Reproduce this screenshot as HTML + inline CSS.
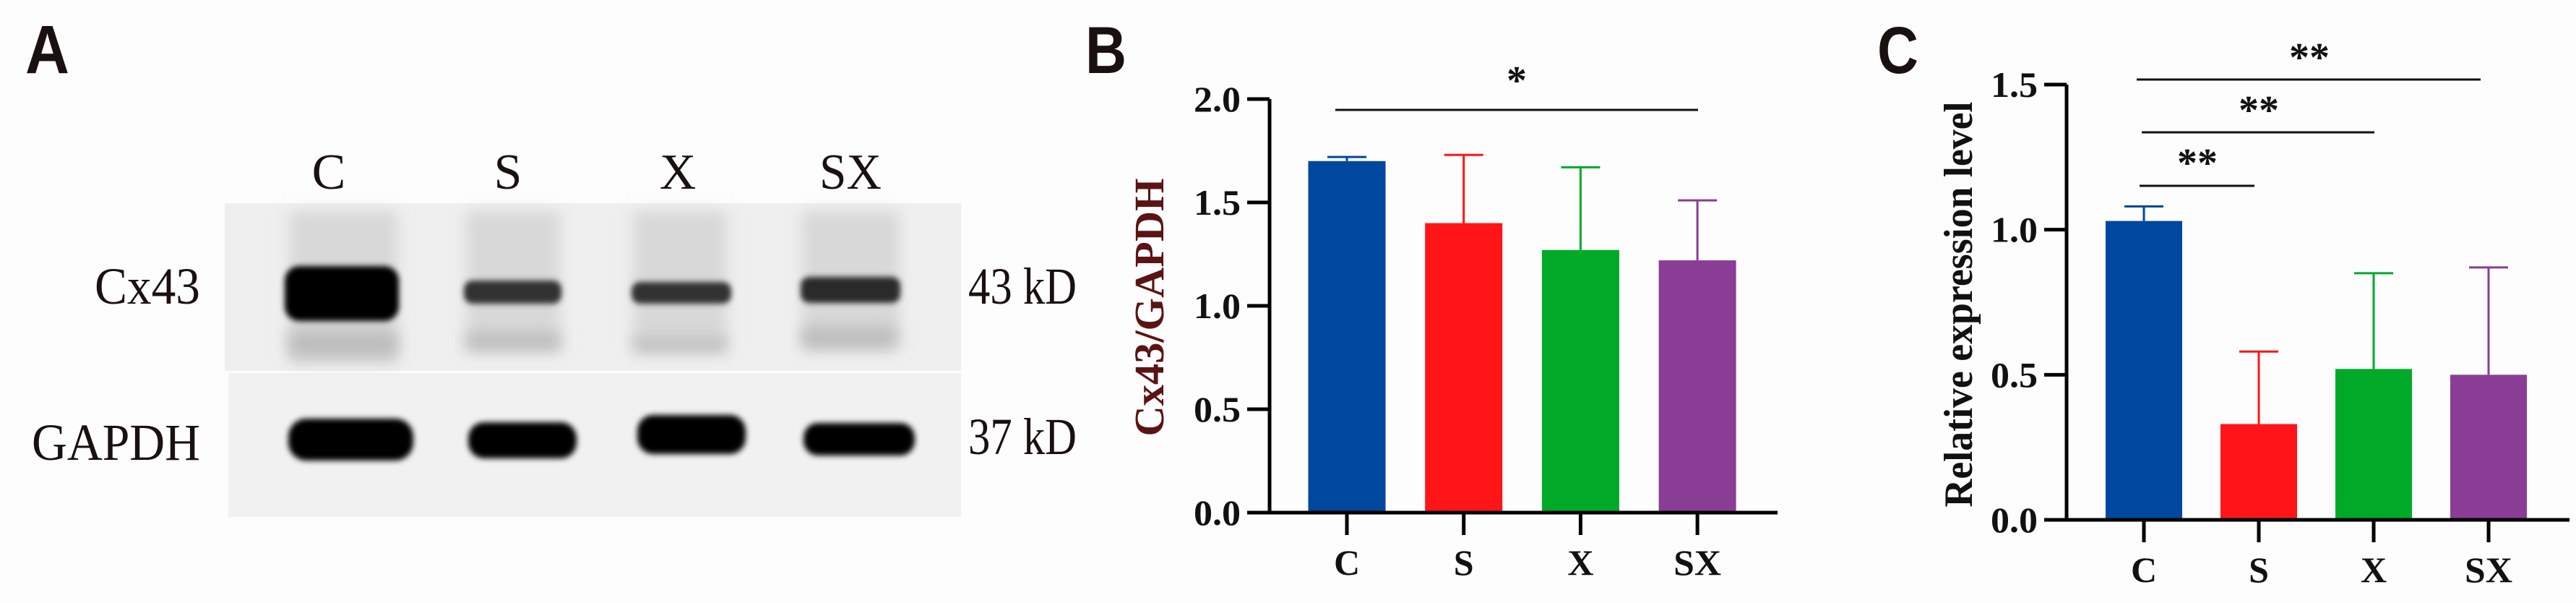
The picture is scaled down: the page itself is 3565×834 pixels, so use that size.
<!DOCTYPE html>
<html><head><meta charset="utf-8"><style>
html,body{margin:0;padding:0;background:#fff}
svg{display:block}
text{font-family:"Liberation Serif",serif}
text.sans{font-family:"Liberation Sans",sans-serif}
</style></head><body>
<svg id="fig" width="3565" height="834" viewBox="0 0 3565 834" xmlns="http://www.w3.org/2000/svg">
<defs>
<filter id="blur" x="-20%" y="-50%" width="140%" height="200%"><feGaussianBlur stdDeviation="4"/></filter>
<filter id="blur2" x="-20%" y="-50%" width="140%" height="200%"><feGaussianBlur stdDeviation="10"/></filter>
</defs>
<rect x="0" y="0" width="3565" height="834" fill="#fdfdfd"/>
<g>
<text class="sans" x="35" y="101" style="font-family:'Liberation Sans',sans-serif" font-weight="bold" font-size="95" textLength="61" lengthAdjust="spacingAndGlyphs" fill="#1a1010">A</text>
<g font-size="70" fill="#1a1010" text-anchor="middle">
<text x="455" y="261">C</text>
<text x="703" y="261">S</text>
<text x="938" y="261">X</text>
<text x="1177" y="261" textLength="86" lengthAdjust="spacingAndGlyphs">SX</text>
</g>
<rect x="311" y="281" width="1019" height="232" fill="#efefef"/>
<rect x="316" y="516" width="1014" height="199" fill="#f1f1f1"/>
<g filter="url(#blur2)" fill="#d8d8d8">
<rect x="400" y="292" width="150" height="210"/><rect x="645" y="292" width="130" height="190"/><rect x="876" y="292" width="130" height="190"/><rect x="1110" y="292" width="135" height="190"/>
</g>
<g filter="url(#blur2)" fill="#bdbdbd">
<rect x="400" y="458" width="150" height="35"/><rect x="645" y="460" width="130" height="25"/><rect x="876" y="467" width="130" height="20"/><rect x="1110" y="452" width="130" height="30"/>
</g>
<g filter="url(#blur)" fill="#050505">
<rect x="394" y="368" width="158" height="76" rx="20"/>
<rect x="642" y="388" width="135" height="32" rx="12" fill="#333"/>
<rect x="874" y="390" width="138" height="30" rx="12" fill="#333"/>
<rect x="1108" y="383" width="138" height="36" rx="12" fill="#2a2a2a"/>
</g>
<g filter="url(#blur)" fill="#050505">
<rect x="399" y="579" width="173" height="58" rx="25"/>
<rect x="648" y="584" width="150" height="50" rx="22"/>
<rect x="882" y="574" width="150" height="54" rx="22"/>
<rect x="1112" y="585" width="154" height="45" rx="20"/>
</g>
<g font-size="72" fill="#1a1010">
<text x="277" y="420" text-anchor="end" textLength="146" lengthAdjust="spacingAndGlyphs">Cx43</text>
<text x="277" y="636" text-anchor="end" textLength="233" lengthAdjust="spacingAndGlyphs">GAPDH</text>
<text x="1340" y="420" textLength="150" lengthAdjust="spacingAndGlyphs">43 kD</text>
<text x="1340" y="628" textLength="150" lengthAdjust="spacingAndGlyphs">37 kD</text>
</g>
</g>
<g id="chartB"></g>
<g id="chartC"></g>
</svg>
<script>
const categories = ["C","S","X","SX"];
const colors = ["#0047a0","#ff1418","#00aa28","#8a3d94"];
const bMeans = [1.70, 1.40, 1.27, 1.22];
const bErrs = [0.02, 0.33, 0.40, 0.29];
const bTicks = [0.0, 0.5, 1.0, 1.5, 2.0];
const cMeans = [1.03, 0.33, 0.52, 0.50];
const cErrs = [0.05, 0.25, 0.33, 0.37];
const cTicks = [0.0, 0.5, 1.0, 1.5];
const NS = "http://www.w3.org/2000/svg";
function mk(parent, tag, attrs, txt){
  const e = document.createElementNS(NS, tag);
  for (const k in attrs) e.setAttribute(k, attrs[k]);
  if (txt !== undefined) e.textContent = txt;
  parent.appendChild(e);
  return e;
}
function drawChart(g, cfg){
  const y = v => cfg.y0 - (v - cfg.ymin) / (cfg.ymax - cfg.ymin) * (cfg.y0 - cfg.y1);
  const bw = cfg.barW;
  const xc = i => cfg.xFirst + i * cfg.step;
  cfg.means.forEach((m, i) => {
    const r = mk(g, "rect", {x: xc(i) - bw/2, y: y(m), width: bw, height: y(0) - y(m), fill: colors[i]});
    
    
    const top = y(m + cfg.errs[i]);
    const l = mk(g, "path", {d: `M${xc(i)} ${y(m)}V${top}M${xc(i)-27} ${top}H${xc(i)+27}`, stroke: colors[i], "stroke-width": 3, fill: "none"});
    
    
  });
  const ax = mk(g, "path", {d: `M${cfg.axX} ${cfg.y1}V${y(0)}M${cfg.axX - 31} ${y(0)}H${cfg.axEnd}`, stroke: "#000", "stroke-width": 5, fill: "none"});
  
  
  cfg.ticks.forEach(t => {
    const tk = mk(g, "line", {x1: cfg.axX - 31, x2: cfg.axX, y1: y(t), y2: y(t), stroke: "#000", "stroke-width": 5});
    
    
    const tl = mk(g, "text", {x: cfg.axX - 40, y: y(t) + 17, "text-anchor": "end", "font-size": 50, "font-weight": "bold", fill: "#111", textLength: 65, lengthAdjust: "spacingAndGlyphs"}, t.toFixed(1));
    
    
  });
  categories.forEach((c, i) => {
    const tk = mk(g, "line", {x1: xc(i), x2: xc(i), y1: y(0), y2: y(0) + 31, stroke: "#000", "stroke-width": 5});
    
    
    const attrs = {x: xc(i), y: y(0) + 86, "text-anchor": "middle", "font-size": 50, "font-weight": "bold", fill: "#111"};
    if (c.length > 1) { attrs.textLength = 66; attrs.lengthAdjust = "spacingAndGlyphs"; }
    const tl = mk(g, "text", attrs, c);
    
    
  });
  const yl = mk(g, "text", {transform: `translate(${cfg.ylX},${cfg.ylY}) rotate(-90)`, "text-anchor": "middle", "font-size": cfg.ylSize, "font-weight": "bold", fill: cfg.ylColor, textLength: cfg.ylLen, lengthAdjust: "spacingAndGlyphs"}, cfg.ylabel);
  
  
  cfg.sig.forEach(s => {
    const ln = mk(g, "line", {x1: s[0], x2: s[1], y1: s[2], y2: s[2], stroke: "#111", "stroke-width": 3});
    
    
    const st = mk(g, "text", {x: s[4], y: s[3] + 26, "text-anchor": "middle", "font-size": 56, "font-weight": "bold", fill: "#111"}, s[5]);
    
    
  });
  const pl = mk(g, "text", {class: "sans", x: cfg.lblX, y: 101, style: "font-family:'Liberation Sans',sans-serif", "font-weight": "bold", "font-size": 92, fill: "#1a1010", textLength: 57, lengthAdjust: "spacingAndGlyphs"}, cfg.panel);
  
  
}
drawChart(document.getElementById('chartB'), {
  means: bMeans, errs: bErrs, ticks: bTicks, ymin: 0, ymax: 2.0, y0: 709, y1: 137,
  axX: 1757, axEnd: 2460, xFirst: 1864, step: 161.7, barW: 107,
  ylabel: "Cx43/GAPDH", ylX: 1610, ylY: 425, ylSize: 58, ylColor: "#5a1414", ylLen: 357,
  sig: [[1848, 2350, 152, 104, 2099, "*"]], panel: "B", lblX: 1502
});
drawChart(document.getElementById('chartC'), {
  means: cMeans, errs: cErrs, ticks: cTicks, ymin: 0, ymax: 1.5, y0: 719, y1: 117,
  axX: 2860, axEnd: 3556, xFirst: 2967, step: 159, barW: 106,
  ylabel: "Relative expression level", ylX: 2729, ylY: 421, ylSize: 56, ylColor: "#111", ylLen: 561,
  sig: [[2957, 3433, 110, 72, 3196, "**"], [2964, 3286, 183, 145, 3126, "**"], [2961, 3120, 257, 218, 3041, "**"]],
  panel: "C", lblX: 2598
});
</script>
</body></html>
